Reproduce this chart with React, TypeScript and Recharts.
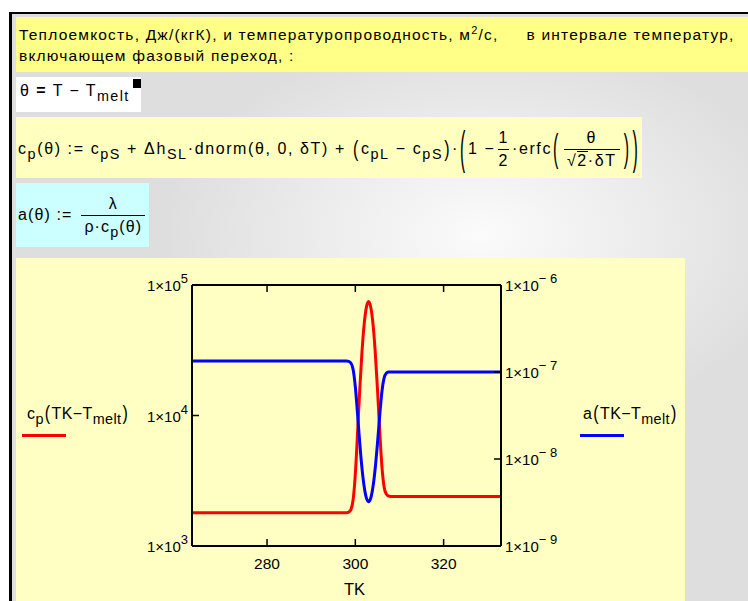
import React from "react";
import { LineChart, Line, XAxis, YAxis } from "recharts";

// temperature grid, K (dense around the melting point)
const tk = [263, 298, 298.5, 299, 299.5, 300, 300.5, 301, 301.5, 302, 302.5, 303, 303.5, 304, 304.5, 305, 305.5, 306, 306.5, 307, 307.5, 308, 333];
// effective heat capacity, J/(kg K)
const cpVals = [1800, 1800, 1817, 1900, 2260, 3560, 7290, 15700, 30500, 49900, 67400, 74600, 67600, 50300, 31000, 16300, 7880, 4160, 2860, 2500, 2417, 2400, 2400];
// thermal diffusivity, m2/s
const aVals = [1.34e-7, 1.34e-7, 1.326e-7, 1.27e-7, 1.07e-7, 6.77e-8, 3.31e-8, 1.53e-8, 7.9e-9, 4.83e-9, 3.57e-9, 3.23e-9, 3.56e-9, 4.79e-9, 7.78e-9, 1.48e-8, 3.06e-8, 5.8e-8, 8.43e-8, 9.65e-8, 9.97e-8, 1.0e-7, 1.0e-7];

const xTicks = [280, 300, 320];
const cpTicks = [1e3, 1e4, 1e5];
const aTicks = [1e-9, 1e-8, 1e-7, 1e-6];

const data = tk.map((t, i) => ({ tk: t, cp: cpVals[i], a: aVals[i] }));

const FONT = "'Liberation Sans', Arial, sans-serif";
const TICK = 7;

const exp10 = (v: number) => Math.round(Math.log10(v));

const BottomTick = ({ x, y, payload }: any) => (
  <g>
    <line x1={x} x2={x} y1={y} y2={y - TICK} stroke="#000" strokeWidth={1.5} />
    <text x={x} y={y + 23} textAnchor="middle" fontFamily={FONT} fontSize={15.5} fill="#000">
      {payload.value}
    </text>
  </g>
);

const TopTick = ({ x, y }: any) => (
  <line x1={x} x2={x} y1={y} y2={y + TICK} stroke="#000" strokeWidth={1.5} />
);

const CpTick = ({ x, y, payload, index }: any) => {
  const e = exp10(payload.value);
  const inner = index > 0 && index < cpTicks.length - 1;
  return (
    <g>
      {inner && <line x1={x} x2={x + TICK} y1={y} y2={y} stroke="#000" strokeWidth={1.5} />}
      <text x={x - 4} y={y + 6} textAnchor="end" fontFamily={FONT} fontSize={15} fill="#000">
        1×10<tspan dy={-8} fontSize={13}>{e}</tspan>
      </text>
    </g>
  );
};

const ATick = ({ x, y, payload, index }: any) => {
  const e = exp10(payload.value);
  const inner = index > 0 && index < aTicks.length - 1;
  return (
    <g>
      {inner && <line x1={x} x2={x - TICK} y1={y} y2={y} stroke="#000" strokeWidth={1.5} />}
      <text x={x + 4} y={y + 6} textAnchor="start" fontFamily={FONT} fontSize={15} fill="#000">
        1×10<tspan dy={-8} fontSize={13}>{"\u2212 " + Math.abs(e)}</tspan>
      </text>
    </g>
  );
};

const Sub = ({ children }: any) => (
  <span style={{ fontSize: "0.9em", position: "relative", top: 5 }}>{children}</span>
);

const Big = ({ children, s = 2 }: any) => (
  <span style={{ display: "inline-block", transform: `scaleY(${s})`, fontWeight: 300, margin: "0 1px" }}>{children}</span>
);

const Frac = ({ num, den, pad = 3, ml = 3 }: any) => (
  <span style={{ display: "inline-flex", flexDirection: "column", alignItems: "center", verticalAlign: "middle", margin: `0 3px 0 ${ml}px` }}>
    <span style={{ padding: `0 ${pad}px 2px` }}>{num}</span>
    <span style={{ borderTop: "1px solid #000", padding: `2px ${pad}px 0`, alignSelf: "stretch", textAlign: "center" }}>{den}</span>
  </span>
);

const box = (left: number, top: number, width: number, height: number, bg: string): React.CSSProperties => ({
  position: "absolute", left, top, width, height, background: bg, boxSizing: "border-box",
});

export default function App() {
  return (
    <div
      style={{
        position: "absolute", left: 0, top: 0, width: 748, height: 601, overflow: "hidden",
        background: "#fff", fontFamily: FONT, color: "#000",
      }}
    >
      {/* worksheet background and frame */}
      <div
        style={{
          position: "absolute", left: 9, top: 12, width: 739, height: 589,
          background: "radial-gradient(ellipse 320px 200px at 470px 220px, #fbfbfb 0%, #dedede 100%)",
          borderLeft: "3px solid #000", borderTop: "2px solid #000", boxSizing: "border-box",
        }}
      />

      {/* title */}
      <div
        style={{
          ...box(16, 17, 732, 55, "#ffff88"), padding: "7px 0 0 3px", fontSize: 15.5, lineHeight: "21px",
          letterSpacing: 1.2, whiteSpace: "nowrap", overflow: "hidden",
        }}
      >
        Теплоемкость, Дж/(кгК), и температуропроводность, м<sup style={{ fontSize: 11, lineHeight: 0 }}>2</sup>/с,
        <span style={{ display: "inline-block", width: 28 }} />в интервале температур,
        <br />
        включающем фазовый переход, :
      </div>

      {/* theta definition */}
      <div style={{ ...box(16, 77, 125, 35, "#fff"), padding: "5px 0 0 4px", fontSize: 16, letterSpacing: 1.4 }}>
        θ <b>=</b> T − T<Sub>melt</Sub>
      </div>
      <div style={box(133, 79, 8, 9, "#000")} />

      {/* effective heat capacity */}
      <div
        style={{
          ...box(16, 117, 626, 61, "#ffffc0"), padding: "4px 0 0 2px", fontSize: 16, letterSpacing: 1.6,
          whiteSpace: "nowrap", display: "flex", alignItems: "center",
        }}
      >
        <span>
          c<Sub>p</Sub>(θ) := c<Sub>pS</Sub> + Δh<Sub>SL</Sub>·dnorm(θ, 0, δT) + <Big s={1.4}>(</Big>c<Sub>pL</Sub> − c<Sub>pS</Sub><Big s={1.4}>)</Big>·<Big s={2.9}>(</Big>1 −
          <Frac num="1" den="2" pad={0} />·erfc<Big s={2.4}>(</Big>
          <Frac num="θ" den={<span>√<span style={{ borderTop: "1px solid #000" }}>2</span>·δT</span>} />
          <Big s={2.4}>)</Big><Big s={2.9}>)</Big>
        </span>
      </div>

      {/* diffusivity */}
      <div
        style={{
          ...box(16, 183, 133, 64, "#ccffff"), padding: "0 0 0 2px", fontSize: 16, letterSpacing: 1.1,
          display: "flex", alignItems: "center",
        }}
      >
        <span>
          a(θ) :=
          <Frac num="λ" den={<span>ρ·c<Sub>p</Sub>(θ)</span>} ml={9} />
        </span>
      </div>

      {/* plot region */}
      <div style={box(16, 258, 669, 343, "#ffffc4")} />

      <div style={{ position: "absolute", left: 27, top: 405, fontSize: 16, letterSpacing: 0.4, whiteSpace: "nowrap" }}>
        c<Sub>p</Sub><Big s={1.3}>(</Big>TK−T<Sub>melt</Sub><Big s={1.3}>)</Big>
      </div>
      <div style={{ position: "absolute", left: 22, top: 434, width: 44, height: 3, background: "#ff0000" }} />

      <div style={{ position: "absolute", left: 583, top: 405, fontSize: 16, letterSpacing: 0.4, whiteSpace: "nowrap" }}>
        a<Big s={1.3}>(</Big>TK−T<Sub>melt</Sub><Big s={1.3}>)</Big>
      </div>
      <div style={{ position: "absolute", left: 580, top: 434, width: 44, height: 3, background: "#0000ff" }} />

      <div style={{ position: "absolute", left: 0, top: 255 }}>
        <LineChart width={748} height={346} data={data} margin={{ top: 20, right: 187, bottom: 15, left: 132 }}>
          <XAxis
            xAxisId="b" dataKey="tk" type="number" domain={[263, 333]} ticks={xTicks}
            height={40} tickSize={0} tickMargin={0} tickLine={false} interval={0}
            axisLine={{ stroke: "#000", strokeWidth: 2 }} tick={<BottomTick />}
          />
          <XAxis
            xAxisId="t" dataKey="tk" type="number" orientation="top" domain={[263, 333]} ticks={xTicks}
            height={10} tickSize={0} tickMargin={0} tickLine={false} interval={0}
            axisLine={{ stroke: "#000", strokeWidth: 2 }} tick={<TopTick />}
          />
          <YAxis
            yAxisId="cp" scale="log" domain={[1e3, 1e5]} ticks={cpTicks} allowDataOverflow
            width={60} tickSize={0} tickMargin={0} tickLine={false} interval={0}
            axisLine={{ stroke: "#000", strokeWidth: 2 }} tick={<CpTick />}
          />
          <YAxis
            yAxisId="a" orientation="right" scale="log" domain={[1e-9, 1e-6]} ticks={aTicks} allowDataOverflow
            width={60} tickSize={0} tickMargin={0} tickLine={false} interval={0}
            axisLine={{ stroke: "#000", strokeWidth: 2 }} tick={<ATick />}
          />
          <Line
            xAxisId="b" yAxisId="cp" dataKey="cp" type="monotone" stroke="#ff0000" strokeWidth={3}
            dot={false} isAnimationActive={false}
          />
          <Line
            xAxisId="b" yAxisId="a" dataKey="a" type="monotone" stroke="#0000ff" strokeWidth={3}
            dot={false} isAnimationActive={false}
          />
        </LineChart>
      </div>

      <div style={{ position: "absolute", left: 344, top: 580, fontSize: 16.5 }}>TK</div>
    </div>
  );
}
